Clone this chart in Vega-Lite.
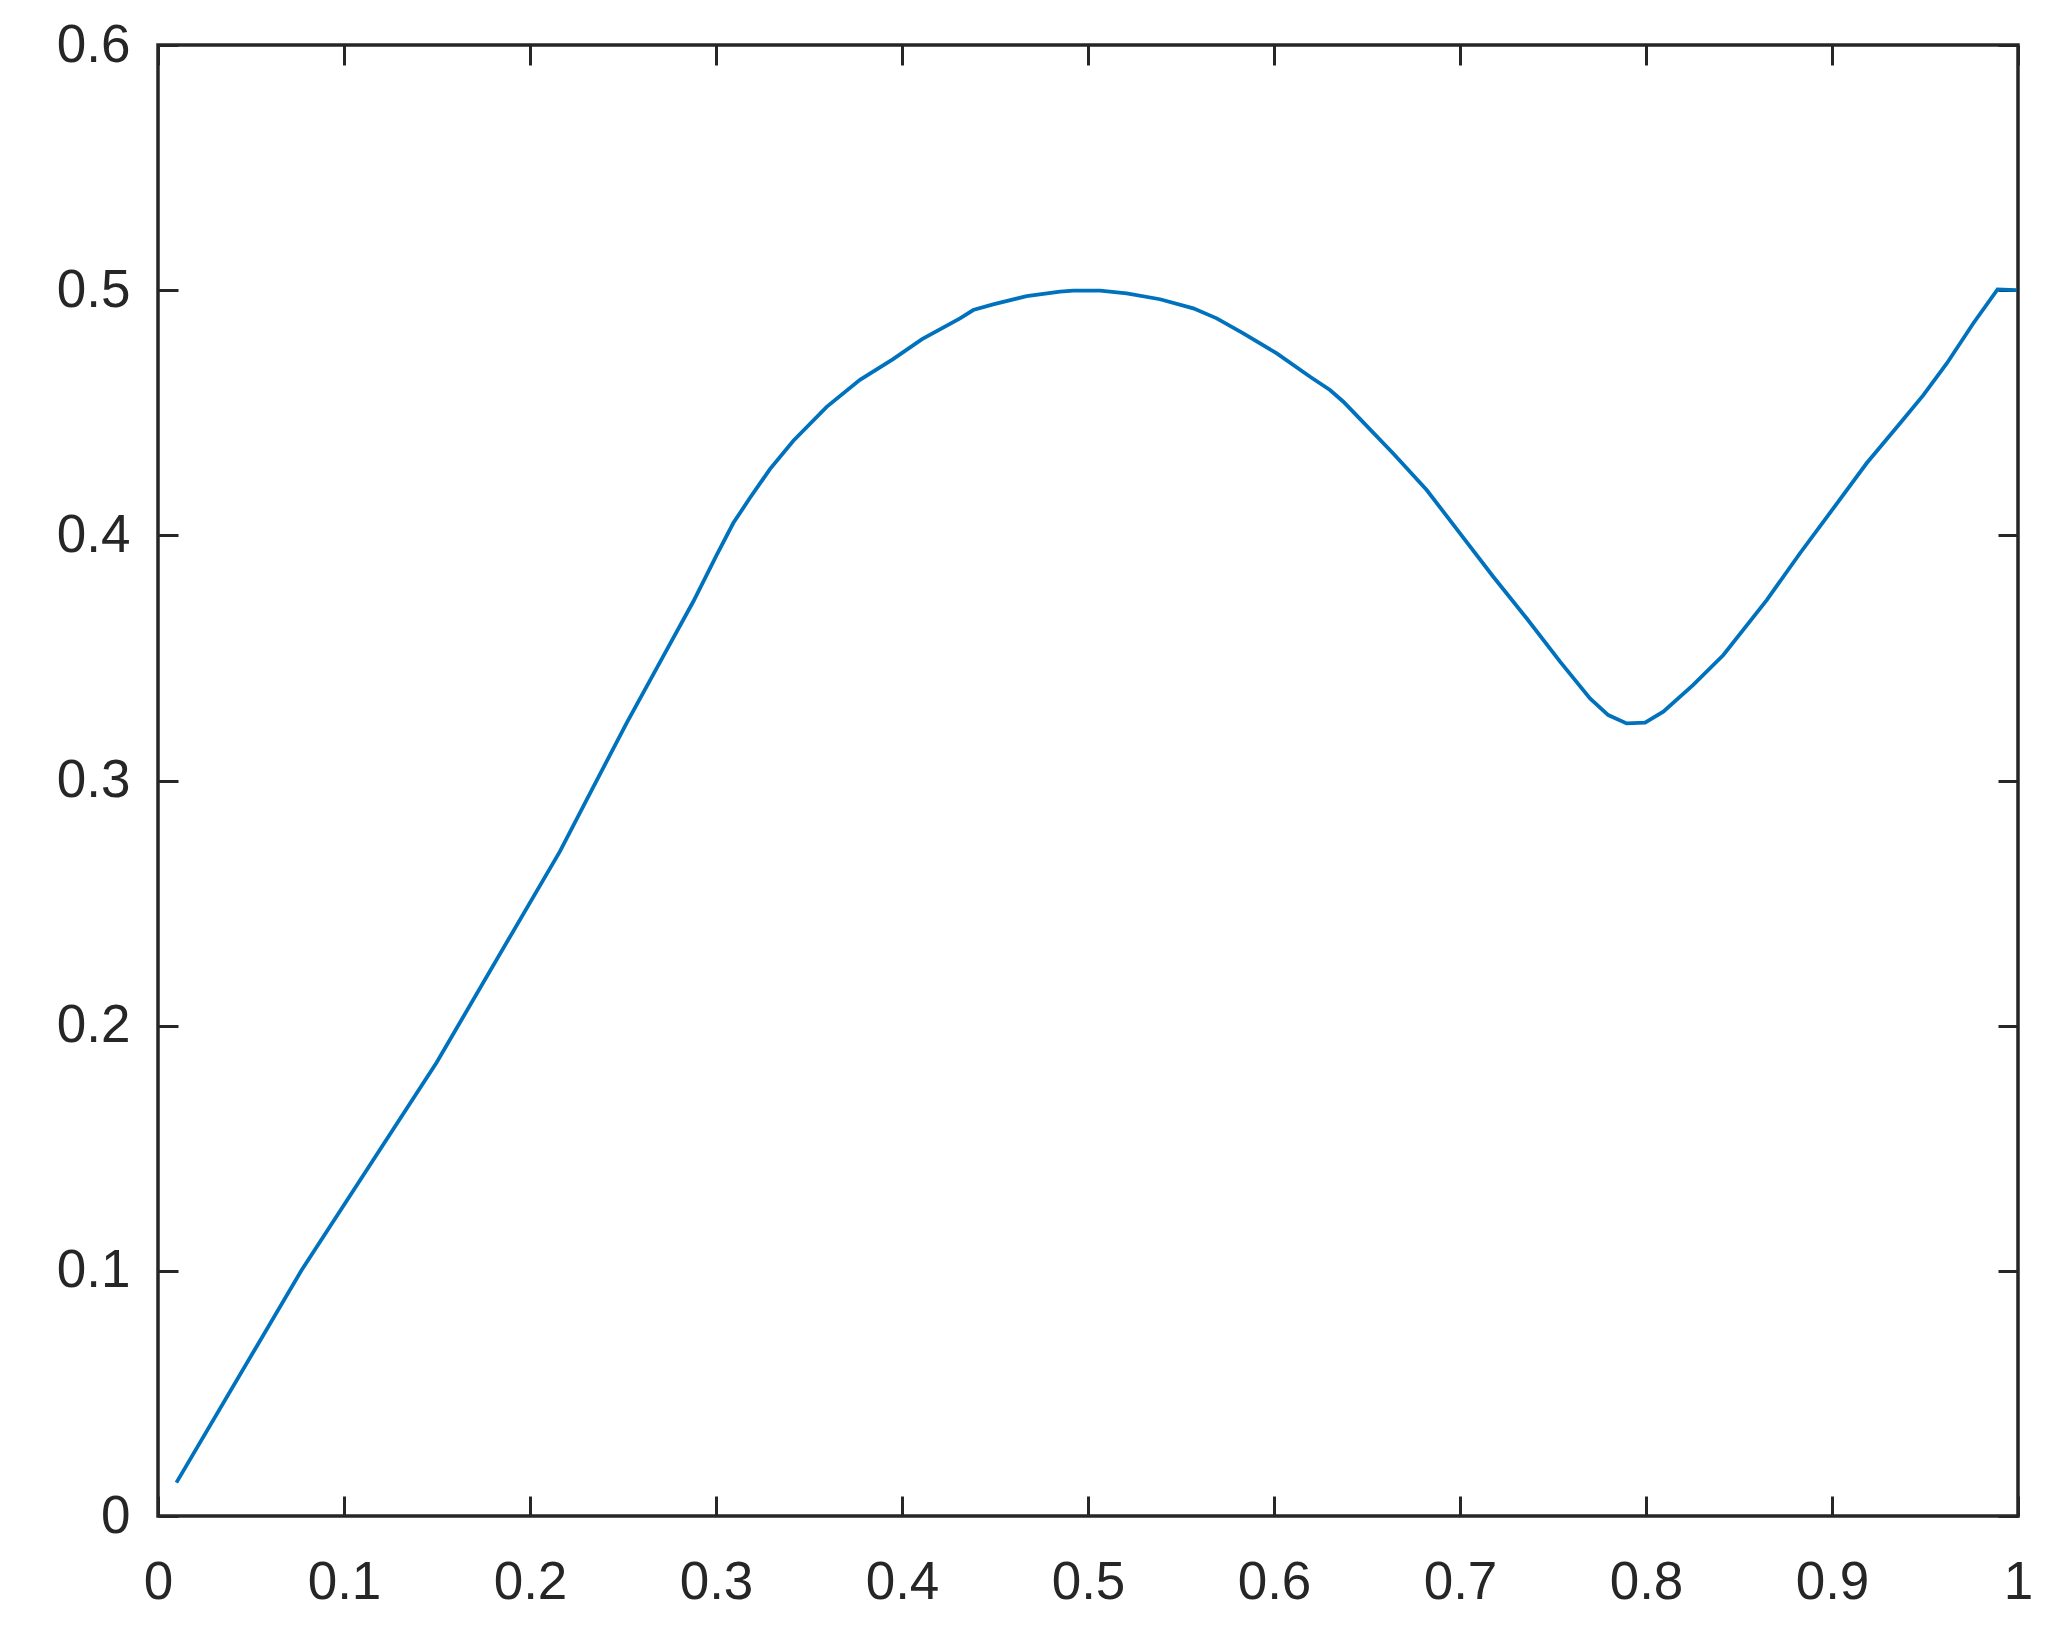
{
  "$schema": "https://vega.github.io/schema/vega-lite/v6.json",
  "width": 1860,
  "height": 1471,
  "autosize": {"type": "none"},
  "padding": {"left": 158, "top": 45, "right": 46, "bottom": 130},
  "background": "white",
  "config": {
    "view": {"stroke": "#262626", "strokeWidth": 3.5},
    "axis": {
      "labelFont": "Liberation Sans",
      "labelFontSize": 53,
      "labelColor": "#262626",
      "tickColor": "#262626",
      "tickWidth": 3,
      "tickSize": -20,
      "domain": false,
      "grid": false,
      "title": null,
      "labelFlush": false,
      "labelOverlap": false,
      "labelBound": false,
      "format": "~g"
    }
  },
  "data": {
    "values": [
      {"x": 0.0099, "y": 0.0136},
      {"x": 0.077, "y": 0.1},
      {"x": 0.1498, "y": 0.185},
      {"x": 0.2161, "y": 0.2711},
      {"x": 0.234, "y": 0.2973},
      {"x": 0.252, "y": 0.3235},
      {"x": 0.2699, "y": 0.3483},
      {"x": 0.2878, "y": 0.373},
      {"x": 0.3004, "y": 0.392},
      {"x": 0.3093, "y": 0.405},
      {"x": 0.3183, "y": 0.4153},
      {"x": 0.329, "y": 0.427},
      {"x": 0.3416, "y": 0.4386},
      {"x": 0.3595, "y": 0.4524},
      {"x": 0.3774, "y": 0.4634},
      {"x": 0.395, "y": 0.4718},
      {"x": 0.4108, "y": 0.48},
      {"x": 0.4312, "y": 0.4885},
      {"x": 0.4383, "y": 0.4919},
      {"x": 0.449, "y": 0.4942},
      {"x": 0.467, "y": 0.4976},
      {"x": 0.485, "y": 0.4994},
      {"x": 0.4921, "y": 0.4998},
      {"x": 0.5065, "y": 0.4998},
      {"x": 0.5208, "y": 0.4987},
      {"x": 0.5387, "y": 0.4963},
      {"x": 0.5566, "y": 0.4926},
      {"x": 0.5692, "y": 0.4885},
      {"x": 0.5835, "y": 0.4824},
      {"x": 0.6015, "y": 0.4742},
      {"x": 0.6194, "y": 0.4647},
      {"x": 0.6301, "y": 0.4593},
      {"x": 0.6373, "y": 0.4545},
      {"x": 0.6462, "y": 0.4475},
      {"x": 0.6641, "y": 0.4334},
      {"x": 0.6821, "y": 0.4185},
      {"x": 0.7, "y": 0.4008},
      {"x": 0.7179, "y": 0.3831},
      {"x": 0.7358, "y": 0.3662},
      {"x": 0.7538, "y": 0.3485},
      {"x": 0.7699, "y": 0.3335},
      {"x": 0.7797, "y": 0.3267},
      {"x": 0.7896, "y": 0.3233},
      {"x": 0.7995, "y": 0.3236},
      {"x": 0.8093, "y": 0.3281},
      {"x": 0.8254, "y": 0.339},
      {"x": 0.8416, "y": 0.3512},
      {"x": 0.8649, "y": 0.3736},
      {"x": 0.8828, "y": 0.3927},
      {"x": 0.9007, "y": 0.411},
      {"x": 0.9186, "y": 0.4294},
      {"x": 0.9366, "y": 0.4457},
      {"x": 0.9491, "y": 0.4572},
      {"x": 0.9617, "y": 0.4701},
      {"x": 0.976, "y": 0.4865},
      {"x": 0.989, "y": 0.5003},
      {"x": 0.9993, "y": 0.5}
    ]
  },
  "resolve": {"axis": {"x": "independent", "y": "independent"}},
  "layer": [
    {
      "mark": {"type": "line", "color": "#0072BD", "strokeWidth": 3.8, "clip": true},
      "encoding": {
        "x": {"field": "x", "type": "quantitative",
              "scale": {"domain": [0, 1], "nice": false, "zero": false},
              "axis": {"orient": "bottom", "values": [0,0.1,0.2,0.3,0.4,0.5,0.6,0.7,0.8,0.9,1], "labelPadding": 60}},
        "y": {"field": "y", "type": "quantitative",
              "scale": {"domain": [0, 0.6], "nice": false, "zero": false},
              "axis": {"orient": "left", "values": [0,0.1,0.2,0.3,0.4,0.5,0.6], "labelPadding": 48}}
      }
    },
    {
      "mark": {"type": "line", "color": "#0072BD", "strokeWidth": 3.8, "opacity": 0},
      "encoding": {
        "x": {"field": "x", "type": "quantitative",
              "axis": {"orient": "top", "values": [0,0.1,0.2,0.3,0.4,0.5,0.6,0.7,0.8,0.9,1], "labels": false}},
        "y": {"field": "y", "type": "quantitative",
              "axis": {"orient": "right", "values": [0,0.1,0.2,0.3,0.4,0.5,0.6], "labels": false}}
      }
    }
  ]
}
